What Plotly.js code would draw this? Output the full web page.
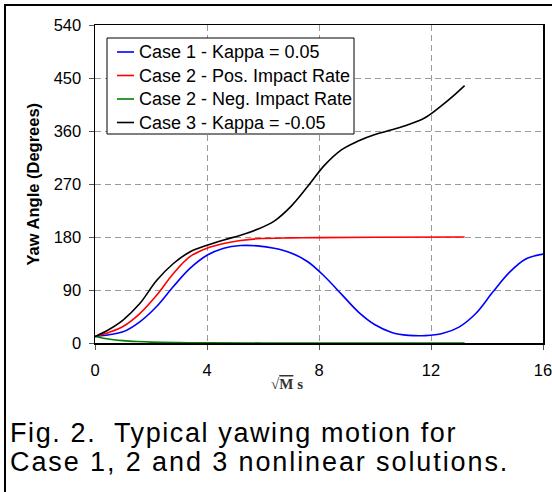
<!DOCTYPE html>
<html>
<head>
<meta charset="utf-8">
<script src="https://cdn.plot.ly/plotly-3.0.1.min.js"></script>
<style>html,body{margin:0;padding:0;background:#fff;}#chart{width:552px;height:492px;}</style>
</head>
<body>
<div id="chart"></div>
<script>
// Series names
const seriesNames = ["Case 1 - Kappa = 0.05", "Case 2 - Pos. Impact Rate", "Case 2 - Neg. Impact Rate", "Case 3 - Kappa = -0.05"];

// Case 1 - Kappa = 0.05
const case1X = [0, 0.5, 1.0, 1.6, 2.2, 2.8, 3.4, 4.0, 4.6, 5.2, 5.8, 6.4, 7.0, 7.6, 8.2, 8.8, 9.4, 10.0, 10.6, 11.2, 11.8, 12.4, 13.0, 13.6, 14.2, 14.8, 15.4, 16.0];
const case1Y = [11, 14, 19, 36, 62, 96, 127, 149, 161, 165.5, 165, 161, 153, 138, 113, 83, 53, 31, 18, 13, 12.5, 16, 27, 50, 86, 120, 143, 151];

// Case 2 - Pos. Impact Rate
const case2PosX = [0, 0.5, 1.0, 1.6, 2.2, 2.8, 3.4, 4.0, 4.6, 5.2, 5.8, 7.0, 8.0, 10.0, 13.2];
const case2PosY = [11, 18, 28, 50, 81, 118, 147, 161, 169, 174, 177, 178.5, 179, 179.5, 180];

// Case 2 - Neg. Impact Rate
const case2NegX = [0, 0.3, 0.6, 1.0, 1.5, 2.0, 3.0, 4.0, 6.0, 13.2];
const case2NegY = [11, 8, 6, 4, 2.5, 1.5, 0.7, 0.3, 0.1, 0];

// Case 3 - Kappa = -0.05
const case3X = [0, 0.5, 1.0, 1.6, 2.2, 2.8, 3.4, 4.0, 4.6, 5.2, 5.8, 6.4, 7.0, 7.6, 8.2, 8.8, 9.4, 10.0, 10.6, 11.2, 11.8, 12.4, 12.9, 13.2];
const case3Y = [11, 23, 39, 67, 106, 135, 155, 166, 175, 183, 193, 207, 232, 266, 302, 328, 343, 354, 362, 371, 383, 404, 424, 437];

// Axis ticks
const xTicks = [0, 4, 8, 12, 16];
const yTicks = [0, 90, 180, 270, 360, 450, 540];

// Caption lines
const captionLines = ["Fig. 2.  Typical yawing motion for", "Case 1, 2 and 3 nonlinear solutions."];

const colors = ["#0000ff", "#ff0000", "#008000", "#000000"];
const FONT = "Liberation Sans, Arial, sans-serif";

const traces = [
  {x: case1X, y: case1Y, name: seriesNames[0]},
  {x: case2PosX, y: case2PosY, name: seriesNames[1]},
  {x: case2NegX, y: case2NegY, name: seriesNames[2]},
  {x: case3X, y: case3Y, name: seriesNames[3]}
].map((t, i) => Object.assign(t, {
  type: "scatter", mode: "lines", showlegend: false,
  line: {color: colors[i], width: 1.6, shape: "spline", smoothing: 1}
}));

const axisCommon = {
  showline: true, mirror: true, linecolor: "#000", linewidth: 1.5,
  showgrid: true, gridcolor: "#9a9a9a", gridwidth: 1, griddash: "6px,4px",
  zeroline: false, ticks: "outside", ticklen: 5, tickcolor: "#555", tickwidth: 1,
  tickfont: {family: FONT, size: 16.5, color: "#000"},
  ticklabeloverflow: "allow",
  fixedrange: true
};

// pixel -> paper helpers (plot area 95..543 x 25..343)
const px = v => (v - 95) / 448;
const py = v => (343 - v) / 318;

// manual legend (box, line samples, labels)
const legTop = 38, legBottom = 134, legLeft = 107, legRight = 354;
const legRows = [52, 75.5, 99, 122.5];
const shapes = [
  {type: "rect", xref: "paper", yref: "paper", x0: -0.2009, x1: 1.2, y0: 1.0629, y1: -0.7,
   line: {color: "#000", width: 2}, fillcolor: "rgba(0,0,0,0)", layer: "below"},
  {type: "rect", xref: "paper", yref: "paper", x0: px(legLeft), x1: px(legRight), y0: py(legTop), y1: py(legBottom),
   line: {color: "#000", width: 1}, fillcolor: "#fff", layer: "above"}
];
const annotations = [];
seriesNames.forEach((name, i) => {
  shapes.push({type: "line", xref: "paper", yref: "paper", x0: px(117), x1: px(134), y0: py(legRows[i]), y1: py(legRows[i]),
    line: {color: colors[i], width: 1.6}, layer: "above"});
  annotations.push({xref: "paper", yref: "paper", x: px(137), y: py(legRows[i]), xanchor: "left", yanchor: "middle",
    text: name, showarrow: false, font: {family: FONT, size: 18, color: "#000"}});
});

annotations.push(
  {xref: "paper", yref: "paper", x: -0.1384, y: 0.5016, xanchor: "center", yanchor: "middle",
   text: "<b>Yaw Angle (Degrees)</b>", textangle: -90, showarrow: false,
   font: {family: FONT, size: 16.5, color: "#000"}},
  {xref: "paper", yref: "paper", x: 0.4286, y: -0.129, xanchor: "center", yanchor: "middle",
   text: "<b>√<span style='text-decoration:overline'>M</span> s</b>", showarrow: false,
   font: {family: "Liberation Serif, Times New Roman, serif", size: 15, color: "#333"}}
);
const capY = [-0.283, -0.373];
const capSpacing = ["1.6px", "1.9px"];
captionLines.forEach((line, i) => {
  annotations.push({xref: "paper", yref: "paper", x: -0.194, y: capY[i], xanchor: "left", yanchor: "middle",
    text: "<span style='letter-spacing:" + capSpacing[i] + "'>" + line + "</span>", showarrow: false,
    font: {family: FONT, size: 27, color: "#000"}});
});

const layout = {
  width: 552, height: 492,
  margin: {l: 95, r: 9, t: 25, b: 149},
  paper_bgcolor: "#fff", plot_bgcolor: "#fff",
  showlegend: false,
  xaxis: Object.assign({}, axisCommon, {
    range: [0, 16], tickvals: xTicks, ticktext: xTicks.map(String),
    ticklabelstandoff: 7
  }),
  yaxis: Object.assign({}, axisCommon, {
    range: [0, 540], tickvals: yTicks, ticktext: yTicks.map(String),
    ticklabelstandoff: 4
  }),
  shapes: shapes,
  annotations: annotations
};

Plotly.newPlot("chart", traces, layout, {displayModeBar: false, staticPlot: true});
</script>
</body>
</html>
